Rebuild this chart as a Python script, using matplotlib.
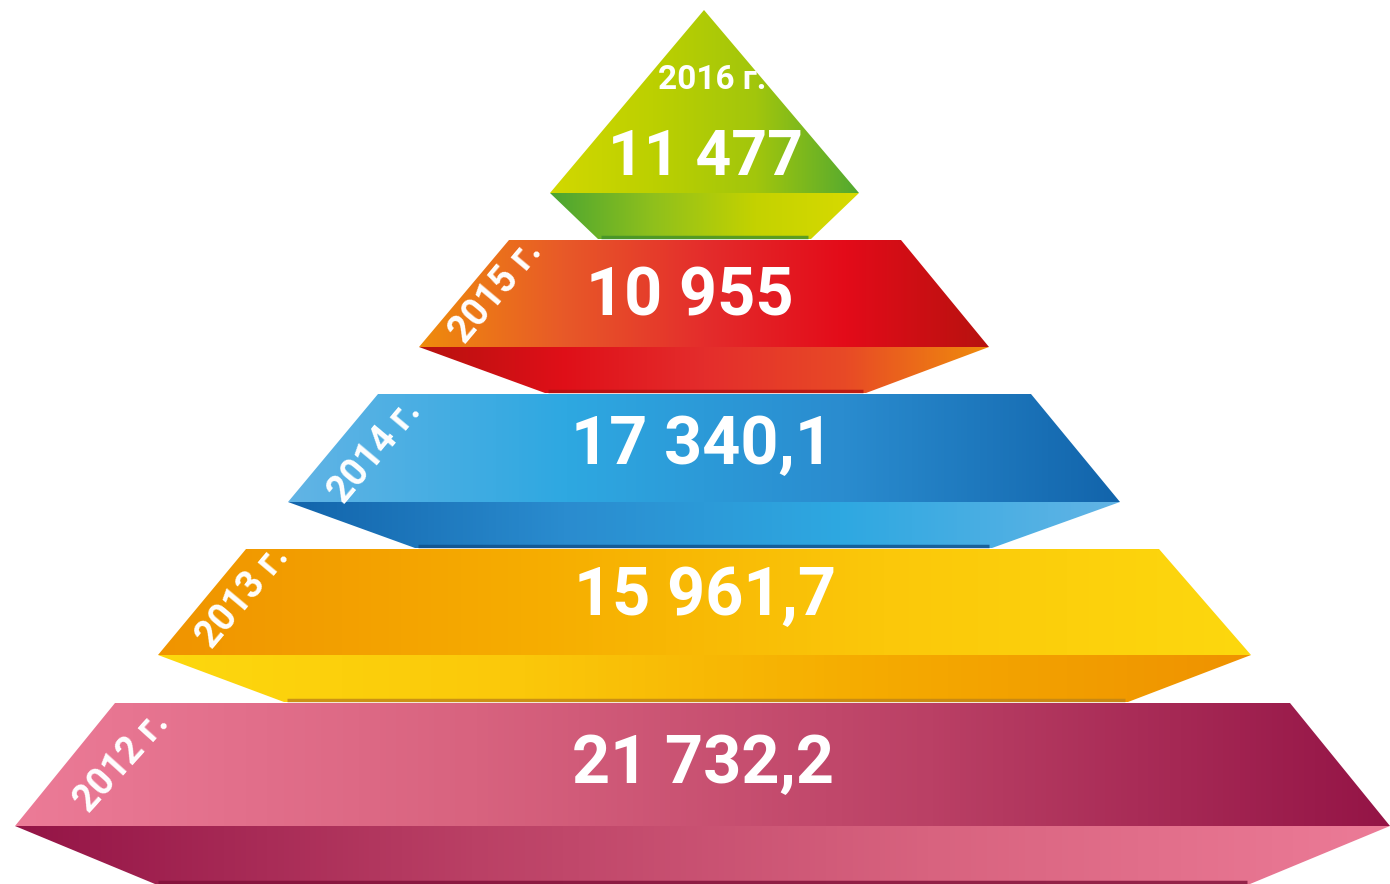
import numpy as np
import matplotlib.pyplot as plt
from matplotlib.patches import Polygon
from matplotlib.colors import LinearSegmentedColormap

# data, top tier first
years = ['2016 г.', '2015 г.', '2014 г.', '2013 г.', '2012 г.']
values = ['11 477', '10 955', '17 340,1', '15 961,7', '21 732,2']

# tier outlines in pixels: (x_left, x_right, y) for top edge, front bottom, lower bottom
tiers = [
    ((704, 704, 10), (550, 859, 193), (598, 811, 239)),
    ((509, 901, 240), (419, 989, 347), (545, 866, 393)),
    ((378, 1031, 394), (288, 1120, 502), (415, 992, 548)),
    ((246, 1159, 549), (158, 1251, 655), (284, 1128, 702)),
    ((115, 1290, 703), (15, 1390, 826), (155, 1250, 884)),
]

front_colors = [
    ['#d2d800', '#bcd000', '#a2c60c', '#52a931'],
    ['#ef8c0c', '#e85a28', '#e42d2c', '#e30b19', '#b7120f'],
    ['#62b4e5', '#2ea8e1', '#2a8ccf', '#1264ab'],
    ['#f09400', '#f6ac00', '#fbc80a', '#fdd80e'],
    ['#ec7b97', '#d8637f', '#ba4065', '#941446'],
]
lower_colors = [
    ['#4aa532', '#8fc01c', '#c4d200', '#d8da00'],
    ['#b7120f', '#df0f18', '#e42d2c', '#e84a26', '#ef8c0c'],
    ['#1264ab', '#2a8ccf', '#2ea8e1', '#62b4e5'],
    ['#fdd80e', '#fbc80a', '#f5aa00', '#ef9200'],
    ['#941446', '#ba4065', '#d8637f', '#ec7b97'],
]
edge_colors = ['#3f8f2a', '#b01010', '#0f4e88', '#c08418', '#7f1038']

value_pos = [(705, 158), (690, 297), (702, 446), (705, 597), (703, 765)]
value_size = [45, 48, 48, 48, 48]
year_pos = [(712, 80), (496, 292), (375, 452), (243, 597), (122, 762)]
year_rot = [0, 50, 50, 50, 48]
year_size = [24, 27, 27, 27, 27]

fig = plt.figure(figsize=(13.9, 8.84), dpi=100)
ax = fig.add_axes([0, 0, 1, 1])
ax.set_xlim(0, 1390)
ax.set_ylim(884, 0)
ax.axis('off')

grad = np.linspace(0, 1, 256).reshape(1, -1)


def gradient_poly(pts, colors):
    xs = [p[0] for p in pts]
    ys = [p[1] for p in pts]
    cmap = LinearSegmentedColormap.from_list('g', colors)
    poly = Polygon(pts, closed=True, facecolor='none', edgecolor='none')
    ax.add_patch(poly)
    im = ax.imshow(grad, cmap=cmap, aspect='auto',
                   extent=(min(xs), max(xs), max(ys), min(ys)), zorder=1)
    im.set_clip_path(poly)


for i, (top, mid, bot) in enumerate(tiers):
    front = [(top[0], top[2]), (top[1], top[2]), (mid[1], mid[2]), (mid[0], mid[2])]
    lower = [(mid[0], mid[2]), (mid[1], mid[2]), (bot[1], bot[2]), (bot[0], bot[2])]
    gradient_poly(front, front_colors[i])
    gradient_poly(lower, lower_colors[i])
    ax.plot([bot[0] + 3, bot[1] - 3], [bot[2] - 2, bot[2] - 2], color=edge_colors[i],
            lw=2.5, alpha=0.8, zorder=2, solid_capstyle='butt')

for i in range(len(values)):
    ax.text(value_pos[i][0], value_pos[i][1], values[i], color='white', fontsize=value_size[i],
            fontfamily='Roboto', fontweight='bold', ha='center', va='center', zorder=5)
    ax.text(year_pos[i][0], year_pos[i][1], years[i], color='white',
            fontsize=year_size[i], fontfamily='Roboto', fontweight='bold',
            ha='center', va='center', rotation=year_rot[i], rotation_mode='anchor', zorder=5)

fig.savefig('out.png', dpi=100)
